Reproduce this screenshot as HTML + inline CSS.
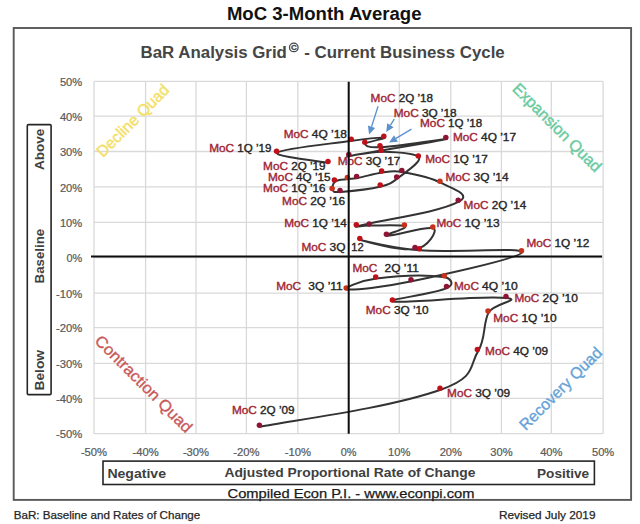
<!DOCTYPE html><html><head><meta charset="utf-8"><style>html,body{margin:0;padding:0;background:#fff;}svg{display:block;}text{font-family:"Liberation Sans", sans-serif;}</style></head><body>
<svg width="640" height="524" viewBox="0 0 640 524">
<rect x="0" y="0" width="640" height="524" fill="#ffffff"/>
<text x="226.9" y="20.3" font-size="17.5" font-weight="bold" fill="#111" textLength="194.6" lengthAdjust="spacingAndGlyphs">MoC 3-Month Average</text>
<rect x="13.7" y="28.0" width="617.4" height="471.9" fill="none" stroke="#595959" stroke-width="1.9"/>
<text x="140.6" y="57.5" font-size="15.6" font-weight="bold" fill="#454545" textLength="146.3" lengthAdjust="spacingAndGlyphs">BaR Analysis Grid</text>
<circle cx="293.8" cy="47.4" r="4.3" fill="none" stroke="#454545" stroke-width="1.25"/>
<text x="293.9" y="50.3" text-anchor="middle" font-size="8" font-weight="bold" fill="#454545" stroke="#454545" stroke-width="0.3">C</text>
<text x="304.3" y="57.5" font-size="15.6" font-weight="bold" fill="#454545" textLength="200.4" lengthAdjust="spacingAndGlyphs">- Current Business Cycle</text>
<path d="M94.00,81.40V433.70M94.00,81.40H603.10M145.60,81.40V433.70M94.00,116.10H603.10M196.00,81.40V433.70M94.00,151.50H603.10M246.40,81.40V433.70M94.00,186.90H603.10M297.80,81.40V433.70M94.00,222.35H603.10M348.70,81.40V433.70M94.00,257.60H603.10M399.25,81.40V433.70M94.00,293.06H603.10M450.80,81.40V433.70M94.00,327.70H603.10M501.40,81.40V433.70M94.00,363.35H603.10M551.30,81.40V433.70M94.00,398.30H603.10M603.10,81.40V433.70M94.00,433.70H603.10" stroke="#d9d9d9" stroke-width="1.3" fill="none"/>
<text transform="translate(132.8,120.6) rotate(-45)" text-anchor="middle" dominant-baseline="central" font-size="16" fill="#f4e068" stroke="#f4e068" stroke-width="0.45" textLength="95" lengthAdjust="spacingAndGlyphs">Decline Quad</text>
<text transform="translate(557.2,127.5) rotate(45)" text-anchor="middle" dominant-baseline="central" font-size="16" fill="#6ccb9f" stroke="#6ccb9f" stroke-width="0.45" textLength="118" lengthAdjust="spacingAndGlyphs">Expansion Quad</text>
<text transform="translate(143.6,383.9) rotate(45)" text-anchor="middle" dominant-baseline="central" font-size="16" fill="#c85a5a" stroke="#c85a5a" stroke-width="0.35" textLength="130" lengthAdjust="spacingAndGlyphs">Contraction Quad</text>
<text transform="translate(560.6,388.6) rotate(-45)" text-anchor="middle" dominant-baseline="central" font-size="16" fill="#64a2d8" stroke="#64a2d8" stroke-width="0.35" textLength="109.5" lengthAdjust="spacingAndGlyphs">Recovery Quad</text>
<text x="82.2" y="86.10" text-anchor="end" font-size="10.2" fill="#595959" stroke="#595959" stroke-width="0.2" textLength="22.30" lengthAdjust="spacingAndGlyphs">50%</text>
<text x="82.2" y="120.80" text-anchor="end" font-size="10.2" fill="#595959" stroke="#595959" stroke-width="0.2" textLength="22.30" lengthAdjust="spacingAndGlyphs">40%</text>
<text x="82.2" y="156.20" text-anchor="end" font-size="10.2" fill="#595959" stroke="#595959" stroke-width="0.2" textLength="22.30" lengthAdjust="spacingAndGlyphs">30%</text>
<text x="82.2" y="191.60" text-anchor="end" font-size="10.2" fill="#595959" stroke="#595959" stroke-width="0.2" textLength="22.30" lengthAdjust="spacingAndGlyphs">20%</text>
<text x="82.2" y="227.05" text-anchor="end" font-size="10.2" fill="#595959" stroke="#595959" stroke-width="0.2" textLength="22.30" lengthAdjust="spacingAndGlyphs">10%</text>
<text x="82.2" y="262.30" text-anchor="end" font-size="10.2" fill="#595959" stroke="#595959" stroke-width="0.2" textLength="15.76" lengthAdjust="spacingAndGlyphs">0%</text>
<text x="82.2" y="297.76" text-anchor="end" font-size="10.2" fill="#595959" stroke="#595959" stroke-width="0.2" textLength="26.25" lengthAdjust="spacingAndGlyphs">-10%</text>
<text x="82.2" y="332.40" text-anchor="end" font-size="10.2" fill="#595959" stroke="#595959" stroke-width="0.2" textLength="26.25" lengthAdjust="spacingAndGlyphs">-20%</text>
<text x="82.2" y="368.05" text-anchor="end" font-size="10.2" fill="#595959" stroke="#595959" stroke-width="0.2" textLength="26.25" lengthAdjust="spacingAndGlyphs">-30%</text>
<text x="82.2" y="403.00" text-anchor="end" font-size="10.2" fill="#595959" stroke="#595959" stroke-width="0.2" textLength="26.25" lengthAdjust="spacingAndGlyphs">-40%</text>
<text x="82.2" y="438.40" text-anchor="end" font-size="10.2" fill="#595959" stroke="#595959" stroke-width="0.2" textLength="26.25" lengthAdjust="spacingAndGlyphs">-50%</text>
<text x="94.00" y="455.6" text-anchor="middle" font-size="10.2" fill="#595959" stroke="#595959" stroke-width="0.2" textLength="26.25" lengthAdjust="spacingAndGlyphs">-50%</text>
<text x="145.60" y="455.6" text-anchor="middle" font-size="10.2" fill="#595959" stroke="#595959" stroke-width="0.2" textLength="26.25" lengthAdjust="spacingAndGlyphs">-40%</text>
<text x="196.00" y="455.6" text-anchor="middle" font-size="10.2" fill="#595959" stroke="#595959" stroke-width="0.2" textLength="26.25" lengthAdjust="spacingAndGlyphs">-30%</text>
<text x="246.40" y="455.6" text-anchor="middle" font-size="10.2" fill="#595959" stroke="#595959" stroke-width="0.2" textLength="26.25" lengthAdjust="spacingAndGlyphs">-20%</text>
<text x="297.80" y="455.6" text-anchor="middle" font-size="10.2" fill="#595959" stroke="#595959" stroke-width="0.2" textLength="26.25" lengthAdjust="spacingAndGlyphs">-10%</text>
<text x="348.70" y="455.6" text-anchor="middle" font-size="10.2" fill="#595959" stroke="#595959" stroke-width="0.2" textLength="15.76" lengthAdjust="spacingAndGlyphs">0%</text>
<text x="399.25" y="455.6" text-anchor="middle" font-size="10.2" fill="#595959" stroke="#595959" stroke-width="0.2" textLength="22.30" lengthAdjust="spacingAndGlyphs">10%</text>
<text x="450.80" y="455.6" text-anchor="middle" font-size="10.2" fill="#595959" stroke="#595959" stroke-width="0.2" textLength="22.30" lengthAdjust="spacingAndGlyphs">20%</text>
<text x="501.40" y="455.6" text-anchor="middle" font-size="10.2" fill="#595959" stroke="#595959" stroke-width="0.2" textLength="22.30" lengthAdjust="spacingAndGlyphs">30%</text>
<text x="551.30" y="455.6" text-anchor="middle" font-size="10.2" fill="#595959" stroke="#595959" stroke-width="0.2" textLength="22.30" lengthAdjust="spacingAndGlyphs">40%</text>
<text x="603.10" y="455.6" text-anchor="middle" font-size="10.2" fill="#595959" stroke="#595959" stroke-width="0.2" textLength="22.30" lengthAdjust="spacingAndGlyphs">50%</text>
<path d="M260.10,426.80 C290.20,420.62 384.44,409.24 440.70,389.70 C477.03,377.08 468.94,365.85 478.10,351.10 C486.10,338.22 482.65,323.64 488.70,312.40 C493.47,303.55 522.63,299.83 506.70,298.00 C480.21,294.95 406.41,303.66 393.10,301.40 C383.18,299.72 432.73,294.65 447.20,287.90 C455.85,283.87 449.33,277.78 445.00,277.20 C424.64,274.50 398.81,275.69 376.40,278.50 C360.05,280.55 341.02,289.03 346.90,289.50 C354.84,290.13 382.48,287.52 411.70,281.30 C448.88,273.39 520.76,257.65 522.20,252.20 C523.57,247.03 453.81,252.88 419.90,250.30 C392.95,248.25 361.23,240.12 360.50,239.90 C359.80,239.68 399.33,251.58 415.70,249.00 C427.87,247.08 438.27,230.62 433.50,228.40 C427.46,225.59 393.72,236.14 387.10,235.70 C382.37,235.38 407.97,228.18 405.10,226.50 C401.46,224.36 381.63,225.65 369.90,225.60 C361.88,225.57 352.01,227.64 357.00,226.30 C383.41,219.21 436.64,213.31 458.90,201.70 C472.83,194.43 450.00,187.65 440.60,182.70 C429.32,176.76 415.36,174.25 402.50,172.00 C392.78,170.30 389.83,171.48 382.30,172.50 C373.88,173.64 365.67,176.48 357.30,178.10 C351.60,179.20 351.80,178.52 348.10,179.10 C343.74,179.79 338.18,179.41 335.10,181.60 C332.55,183.42 331.83,188.22 332.80,190.00 C333.73,191.72 332.68,192.48 340.70,191.90 C354.06,190.93 367.89,189.60 380.90,186.50 C390.35,184.25 391.05,183.23 397.40,178.40 C405.28,172.40 421.60,161.95 419.00,157.50 C416.11,152.55 394.22,151.95 381.80,151.70 C370.22,151.47 338.72,158.20 349.50,156.10 C365.70,152.94 440.28,140.87 446.50,139.10 C451.70,137.62 402.56,145.96 380.70,147.20 C367.20,147.97 364.87,145.27 365.50,143.70 C366.21,141.94 386.77,138.28 384.50,137.80 C381.68,137.20 369.77,138.30 351.90,140.80 C326.97,144.29 281.87,148.45 277.30,152.80 C273.43,156.48 320.13,161.22 328.70,162.90" stroke="#333" stroke-width="2" fill="none" stroke-linejoin="round"/>
<circle cx="259.40" cy="425.30" r="2.75" fill="#8e1436"/>
<circle cx="440.00" cy="388.20" r="2.75" fill="#c0101a"/>
<circle cx="477.40" cy="349.60" r="2.75" fill="#c0101a"/>
<circle cx="488.00" cy="310.90" r="2.75" fill="#c8321a"/>
<circle cx="506.00" cy="296.50" r="2.75" fill="#8e1436"/>
<circle cx="392.40" cy="299.90" r="2.75" fill="#c0101a"/>
<circle cx="446.50" cy="286.40" r="2.75" fill="#8e1436"/>
<circle cx="444.30" cy="275.70" r="2.75" fill="#c8321a"/>
<circle cx="375.70" cy="277.00" r="2.75" fill="#c0101a"/>
<circle cx="346.20" cy="288.00" r="2.75" fill="#c8321a"/>
<circle cx="411.00" cy="279.80" r="2.75" fill="#8e1436"/>
<circle cx="521.50" cy="250.70" r="2.75" fill="#c8321a"/>
<circle cx="419.20" cy="248.80" r="2.75" fill="#c0101a"/>
<circle cx="359.80" cy="238.40" r="2.75" fill="#c0101a"/>
<circle cx="415.00" cy="247.50" r="2.75" fill="#8e1436"/>
<circle cx="432.80" cy="226.90" r="2.75" fill="#c8321a"/>
<circle cx="386.40" cy="234.20" r="2.75" fill="#8e1436"/>
<circle cx="404.40" cy="225.00" r="2.75" fill="#c8321a"/>
<circle cx="369.20" cy="224.10" r="2.75" fill="#8e1436"/>
<circle cx="356.30" cy="224.80" r="2.75" fill="#c0101a"/>
<circle cx="458.20" cy="200.20" r="2.75" fill="#8e1436"/>
<circle cx="439.90" cy="181.20" r="2.75" fill="#c8321a"/>
<circle cx="401.80" cy="170.50" r="2.75" fill="#8e1436"/>
<circle cx="381.60" cy="171.00" r="2.75" fill="#c0101a"/>
<circle cx="356.60" cy="176.60" r="2.75" fill="#8e1436"/>
<circle cx="347.40" cy="177.60" r="2.75" fill="#c8321a"/>
<circle cx="334.40" cy="180.10" r="2.75" fill="#c0101a"/>
<circle cx="332.10" cy="188.50" r="2.75" fill="#c8321a"/>
<circle cx="340.00" cy="190.40" r="2.75" fill="#8e1436"/>
<circle cx="380.20" cy="185.00" r="2.75" fill="#c0101a"/>
<circle cx="396.70" cy="176.90" r="2.75" fill="#8e1436"/>
<circle cx="418.30" cy="156.00" r="2.75" fill="#c0101a"/>
<circle cx="381.10" cy="150.20" r="2.75" fill="#c0101a"/>
<circle cx="348.80" cy="154.60" r="2.75" fill="#8e1436"/>
<circle cx="445.80" cy="137.60" r="2.75" fill="#8e1436"/>
<circle cx="380.00" cy="145.70" r="2.75" fill="#c0101a"/>
<circle cx="364.80" cy="142.20" r="2.75" fill="#c0101a"/>
<circle cx="383.80" cy="136.30" r="2.75" fill="#c0101a"/>
<circle cx="351.20" cy="139.30" r="2.75" fill="#c0101a"/>
<circle cx="276.60" cy="151.30" r="2.75" fill="#c0101a"/>
<circle cx="328.00" cy="161.40" r="2.75" fill="#c0101a"/>
<text x="231.95" y="414.40" font-size="10.2" fill="#a02535" stroke="#a02535" stroke-width="0.35" textLength="24.90" lengthAdjust="spacingAndGlyphs">MoC</text>
<text x="260.05" y="414.40" font-size="10.2" fill="#262626" stroke="#262626" stroke-width="0.35" textLength="34.50" lengthAdjust="spacingAndGlyphs">2Q &#8217;09</text>
<text x="447.10" y="397.20" font-size="10.2" fill="#a02535" stroke="#a02535" stroke-width="0.35" textLength="24.90" lengthAdjust="spacingAndGlyphs">MoC</text>
<text x="475.20" y="397.20" font-size="10.2" fill="#262626" stroke="#262626" stroke-width="0.35" textLength="35.00" lengthAdjust="spacingAndGlyphs">3Q &#8217;09</text>
<text x="485.10" y="355.00" font-size="10.2" fill="#a02535" stroke="#a02535" stroke-width="0.35" textLength="24.90" lengthAdjust="spacingAndGlyphs">MoC</text>
<text x="513.20" y="355.00" font-size="10.2" fill="#262626" stroke="#262626" stroke-width="0.35" textLength="34.90" lengthAdjust="spacingAndGlyphs">4Q &#8217;09</text>
<text x="493.30" y="322.10" font-size="10.2" fill="#a02535" stroke="#a02535" stroke-width="0.35" textLength="24.90" lengthAdjust="spacingAndGlyphs">MoC</text>
<text x="521.40" y="322.10" font-size="10.2" fill="#262626" stroke="#262626" stroke-width="0.35" textLength="35.30" lengthAdjust="spacingAndGlyphs">1Q &#8217;10</text>
<text x="514.45" y="301.50" font-size="10.2" fill="#a02535" stroke="#a02535" stroke-width="0.35" textLength="24.90" lengthAdjust="spacingAndGlyphs">MoC</text>
<text x="542.55" y="301.50" font-size="10.2" fill="#262626" stroke="#262626" stroke-width="0.35" textLength="35.35" lengthAdjust="spacingAndGlyphs">2Q &#8217;10</text>
<text x="365.80" y="314.10" font-size="10.2" fill="#a02535" stroke="#a02535" stroke-width="0.35" textLength="24.90" lengthAdjust="spacingAndGlyphs">MoC</text>
<text x="393.90" y="314.10" font-size="10.2" fill="#262626" stroke="#262626" stroke-width="0.35" textLength="34.80" lengthAdjust="spacingAndGlyphs">3Q &#8217;10</text>
<text x="454.00" y="290.00" font-size="10.2" fill="#a02535" stroke="#a02535" stroke-width="0.35" textLength="24.90" lengthAdjust="spacingAndGlyphs">MoC</text>
<text x="482.10" y="290.00" font-size="10.2" fill="#262626" stroke="#262626" stroke-width="0.35" textLength="35.60" lengthAdjust="spacingAndGlyphs">4Q &#8217;10</text>
<text x="276.20" y="290.00" font-size="10.2" fill="#a02535" stroke="#a02535" stroke-width="0.35" textLength="24.90" lengthAdjust="spacingAndGlyphs">MoC</text>
<text x="308.35" y="290.00" font-size="10.2" fill="#262626" stroke="#262626" stroke-width="0.35" textLength="34.45" lengthAdjust="spacingAndGlyphs">3Q &#8217;11</text>
<text x="352.45" y="271.50" font-size="10.2" fill="#a02535" stroke="#a02535" stroke-width="0.35" textLength="24.90" lengthAdjust="spacingAndGlyphs">MoC</text>
<text x="384.60" y="271.50" font-size="10.2" fill="#262626" stroke="#262626" stroke-width="0.35" textLength="34.20" lengthAdjust="spacingAndGlyphs">2Q &#8217;11</text>
<text x="526.40" y="246.80" font-size="10.2" fill="#a02535" stroke="#a02535" stroke-width="0.35" textLength="24.90" lengthAdjust="spacingAndGlyphs">MoC</text>
<text x="554.50" y="246.80" font-size="10.2" fill="#262626" stroke="#262626" stroke-width="0.35" textLength="34.80" lengthAdjust="spacingAndGlyphs">1Q &#8217;12</text>
<text x="301.45" y="250.60" font-size="10.2" fill="#a02535" stroke="#a02535" stroke-width="0.35" textLength="24.90" lengthAdjust="spacingAndGlyphs">MoC</text>
<text x="329.60" y="250.60" font-size="10.2" fill="#262626" stroke="#262626" stroke-width="0.35" textLength="15.90" lengthAdjust="spacingAndGlyphs">3Q</text>
<text x="351.30" y="250.60" font-size="10.2" fill="#262626" stroke="#262626" stroke-width="0.35" textLength="12.30" lengthAdjust="spacingAndGlyphs">12</text>
<text x="436.40" y="226.80" font-size="10.2" fill="#a02535" stroke="#a02535" stroke-width="0.35" textLength="24.90" lengthAdjust="spacingAndGlyphs">MoC</text>
<text x="464.50" y="226.80" font-size="10.2" fill="#262626" stroke="#262626" stroke-width="0.35" textLength="35.05" lengthAdjust="spacingAndGlyphs">1Q &#8217;13</text>
<text x="284.20" y="226.90" font-size="10.2" fill="#a02535" stroke="#a02535" stroke-width="0.35" textLength="24.90" lengthAdjust="spacingAndGlyphs">MoC</text>
<text x="312.30" y="226.90" font-size="10.2" fill="#262626" stroke="#262626" stroke-width="0.35" textLength="34.50" lengthAdjust="spacingAndGlyphs">1Q &#8217;14</text>
<text x="463.60" y="208.75" font-size="10.2" fill="#a02535" stroke="#a02535" stroke-width="0.35" textLength="24.90" lengthAdjust="spacingAndGlyphs">MoC</text>
<text x="491.70" y="208.75" font-size="10.2" fill="#262626" stroke="#262626" stroke-width="0.35" textLength="34.50" lengthAdjust="spacingAndGlyphs">2Q &#8217;14</text>
<text x="445.45" y="181.25" font-size="10.2" fill="#a02535" stroke="#a02535" stroke-width="0.35" textLength="24.90" lengthAdjust="spacingAndGlyphs">MoC</text>
<text x="473.55" y="181.25" font-size="10.2" fill="#262626" stroke="#262626" stroke-width="0.35" textLength="35.00" lengthAdjust="spacingAndGlyphs">3Q &#8217;14</text>
<text x="268.00" y="181.00" font-size="10.2" fill="#a02535" stroke="#a02535" stroke-width="0.35" textLength="24.90" lengthAdjust="spacingAndGlyphs">MoC</text>
<text x="296.10" y="181.00" font-size="10.2" fill="#262626" stroke="#262626" stroke-width="0.35" textLength="34.40" lengthAdjust="spacingAndGlyphs">4Q &#8217;15</text>
<text x="263.10" y="192.40" font-size="10.2" fill="#a02535" stroke="#a02535" stroke-width="0.35" textLength="24.90" lengthAdjust="spacingAndGlyphs">MoC</text>
<text x="291.20" y="192.40" font-size="10.2" fill="#262626" stroke="#262626" stroke-width="0.35" textLength="34.40" lengthAdjust="spacingAndGlyphs">1Q &#8217;16</text>
<text x="282.10" y="204.90" font-size="10.2" fill="#a02535" stroke="#a02535" stroke-width="0.35" textLength="24.90" lengthAdjust="spacingAndGlyphs">MoC</text>
<text x="310.20" y="204.90" font-size="10.2" fill="#262626" stroke="#262626" stroke-width="0.35" textLength="34.90" lengthAdjust="spacingAndGlyphs">2Q &#8217;16</text>
<text x="337.70" y="164.75" font-size="10.2" fill="#a02535" stroke="#a02535" stroke-width="0.35" textLength="24.90" lengthAdjust="spacingAndGlyphs">MoC</text>
<text x="365.80" y="164.75" font-size="10.2" fill="#262626" stroke="#262626" stroke-width="0.35" textLength="34.40" lengthAdjust="spacingAndGlyphs">3Q &#8217;17</text>
<text x="425.20" y="162.50" font-size="10.2" fill="#a02535" stroke="#a02535" stroke-width="0.35" textLength="24.90" lengthAdjust="spacingAndGlyphs">MoC</text>
<text x="453.30" y="162.50" font-size="10.2" fill="#262626" stroke="#262626" stroke-width="0.35" textLength="34.60" lengthAdjust="spacingAndGlyphs">1Q &#8217;17</text>
<text x="452.95" y="141.00" font-size="10.2" fill="#a02535" stroke="#a02535" stroke-width="0.35" textLength="24.90" lengthAdjust="spacingAndGlyphs">MoC</text>
<text x="481.05" y="141.00" font-size="10.2" fill="#262626" stroke="#262626" stroke-width="0.35" textLength="35.00" lengthAdjust="spacingAndGlyphs">4Q &#8217;17</text>
<text x="420.00" y="127.40" font-size="10.2" fill="#a02535" stroke="#a02535" stroke-width="0.35" textLength="24.90" lengthAdjust="spacingAndGlyphs">MoC</text>
<text x="448.10" y="127.40" font-size="10.2" fill="#262626" stroke="#262626" stroke-width="0.35" textLength="34.10" lengthAdjust="spacingAndGlyphs">1Q &#8217;18</text>
<text x="393.80" y="116.90" font-size="10.2" fill="#a02535" stroke="#a02535" stroke-width="0.35" textLength="24.90" lengthAdjust="spacingAndGlyphs">MoC</text>
<text x="421.90" y="116.90" font-size="10.2" fill="#262626" stroke="#262626" stroke-width="0.35" textLength="34.70" lengthAdjust="spacingAndGlyphs">3Q &#8217;18</text>
<text x="370.60" y="102.20" font-size="10.2" fill="#a02535" stroke="#a02535" stroke-width="0.35" textLength="24.90" lengthAdjust="spacingAndGlyphs">MoC</text>
<text x="398.70" y="102.20" font-size="10.2" fill="#262626" stroke="#262626" stroke-width="0.35" textLength="34.30" lengthAdjust="spacingAndGlyphs">2Q &#8217;18</text>
<text x="283.70" y="138.30" font-size="10.2" fill="#a02535" stroke="#a02535" stroke-width="0.35" textLength="24.90" lengthAdjust="spacingAndGlyphs">MoC</text>
<text x="311.80" y="138.30" font-size="10.2" fill="#262626" stroke="#262626" stroke-width="0.35" textLength="35.20" lengthAdjust="spacingAndGlyphs">4Q &#8217;18</text>
<text x="209.20" y="151.60" font-size="10.2" fill="#a02535" stroke="#a02535" stroke-width="0.35" textLength="24.90" lengthAdjust="spacingAndGlyphs">MoC</text>
<text x="237.30" y="151.60" font-size="10.2" fill="#262626" stroke="#262626" stroke-width="0.35" textLength="34.10" lengthAdjust="spacingAndGlyphs">1Q &#8217;19</text>
<text x="263.10" y="170.10" font-size="10.2" fill="#a02535" stroke="#a02535" stroke-width="0.35" textLength="24.90" lengthAdjust="spacingAndGlyphs">MoC</text>
<text x="291.20" y="170.10" font-size="10.2" fill="#262626" stroke="#262626" stroke-width="0.35" textLength="34.40" lengthAdjust="spacingAndGlyphs">2Q &#8217;19</text>
<path d="M348.70,81.80V433.70" stroke="#0d0d0d" stroke-width="2"/>
<path d="M91.00,256.60H602.10" stroke="#0d0d0d" stroke-width="2"/>
<path d="M378.10,106.20L371.53,126.78" stroke="#5b91cc" stroke-width="1.3"/>
<path d="M369.10,134.40L367.91,125.62L375.15,127.93Z" fill="#5b91cc"/>
<path d="M394.30,119.10L390.45,125.22" stroke="#5b91cc" stroke-width="1.3"/>
<path d="M386.20,132.00L387.24,123.20L393.67,127.25Z" fill="#5b91cc"/>
<path d="M411.50,129.10L395.97,138.39" stroke="#5b91cc" stroke-width="1.3"/>
<path d="M389.10,142.50L394.01,135.13L397.92,141.65Z" fill="#5b91cc"/>
<rect x="27.3" y="124.6" rx="1.2" width="23.8" height="270.0" fill="none" stroke="#262626" stroke-width="1.6"/>
<text transform="translate(43.6,170.1) rotate(-90)" font-size="13.7" font-weight="bold" fill="#404040" textLength="41.4" lengthAdjust="spacingAndGlyphs">Above</text>
<text transform="translate(43.6,283.4) rotate(-90)" font-size="13.7" font-weight="bold" fill="#404040" textLength="54.6" lengthAdjust="spacingAndGlyphs">Baseline</text>
<text transform="translate(43.6,390.5) rotate(-90)" font-size="13.7" font-weight="bold" fill="#404040" textLength="40.6" lengthAdjust="spacingAndGlyphs">Below</text>
<rect x="103.0" y="461.1" width="491.4" height="23.4" fill="none" stroke="#262626" stroke-width="1.6"/>
<text x="107.4" y="477.5" font-size="13.7" font-weight="bold" fill="#404040" textLength="58.6" lengthAdjust="spacingAndGlyphs">Negative</text>
<text x="224.4" y="477.4" font-size="13.7" font-weight="bold" fill="#404040" textLength="251.0" lengthAdjust="spacingAndGlyphs">Adjusted Proportional Rate of Change</text>
<text x="537.0" y="477.5" font-size="13.7" font-weight="bold" fill="#404040" textLength="52.2" lengthAdjust="spacingAndGlyphs">Positive</text>
<text x="227.6" y="497.6" font-size="12.8" fill="#1a1a1a" stroke="#1a1a1a" stroke-width="0.25" textLength="246.8" lengthAdjust="spacingAndGlyphs">Compiled Econ P.I. - www.econpi.com</text>
<text x="13.7" y="518.6" font-size="11.2" fill="#262626" stroke="#262626" stroke-width="0.25" textLength="186.6" lengthAdjust="spacingAndGlyphs">BaR: Baseline and Rates of Change</text>
<text x="499.0" y="518.8" font-size="11.2" fill="#262626" stroke="#262626" stroke-width="0.25" textLength="96.5" lengthAdjust="spacingAndGlyphs">Revised July 2019</text>
</svg></body></html>
